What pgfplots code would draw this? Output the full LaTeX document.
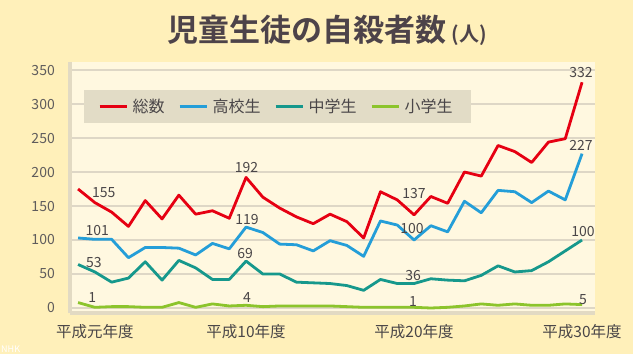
\documentclass[border=0pt]{standalone}
\usepackage{fontspec}
\setmainfont{Noto Sans CJK JP}[BoldFont={Noto Sans CJK JP Bold}]
\usepackage{pgfplots}
\usepackage{pgfplotstable}
\pgfplotsset{compat=1.18}
\usetikzlibrary{calc}
\pgfdeclarelayer{background}
\pgfsetlayers{background,main}
\definecolor{bgc}{RGB}{255,240,186}
\definecolor{plotbg}{RGB}{255,248,224}
\definecolor{gridc}{RGB}{222,215,198}
\definecolor{bordc}{RGB}{226,218,195}
\definecolor{legbg}{RGB}{226,220,198}
\definecolor{titlec}{RGB}{77,67,73}
\definecolor{txtc}{RGB}{74,70,72}
\definecolor{tickc}{RGB}{95,92,92}
\definecolor{cred}{RGB}{230,0,18}
\definecolor{cblue}{RGB}{36,158,216}
\definecolor{cteal}{RGB}{22,152,140}
\definecolor{cgreen}{RGB}{140,196,44}
\tikzset{lab/.style={font=\fontsize{14}{16}\selectfont, text=txtc, inner sep=0pt, anchor=center}}

\pgfplotstableread{
x tot high mid elem
0 175 103 64 8
1 155 101 53 1
2 141 101 38 2
3 120 74 44 2
4 158 89 68 1
5 131 89 41 1
6 166 88 70 8
7 138 78 59 1
8 143 95 42 6
9 132 87 42 3
10 192 119 69 4
11 163 111 50 2
12 147 94 50 3
13 134 93 38 3
14 124 84 37 3
15 138 99 36 3
16 127 92 33 2
17 103 76 26 1
18 171 128 42 1
19 159 122 36 1
20 137 100 36 1
21 164 121 43 0
22 154 112 41 1
23 200 157 40 3
24 194 140 48 6
25 239 173 62 4
26 230 171 53 6
27 214 155 55 4
28 244 172 68 4
29 249 159 84 6
30 332 227 100 5
}\data

\begin{document}
\begin{tikzpicture}
\begin{axis}[
  name=ax,
  scale only axis, width=525pt, height=251pt,
  xmin=-0.48, xmax=30.77, ymin=-7.35, ymax=361.8,
  axis background/.style={fill=plotbg},
  axis x line*=bottom, axis y line*=left,
  axis line style={draw=bordc, line width=4pt, -},
  ytick={0,50,...,350},
  ymajorgrids, grid style={draw=gridc, line width=1.8pt},
  xtick={1,10,20,30},
  xticklabels={平成元年度,平成10年度,平成20年度,平成30年度},
  major tick length=0pt, tick style={draw=none},
  /pgf/number format/assume math mode=true,
  yticklabel style={font=\fontsize{14}{16}\selectfont, text=tickc, inner sep=0pt, xshift=-15pt},
  xticklabel style={font=\fontsize{15.5}{17}\selectfont, text=txtc, inner sep=0pt, yshift=-11pt},
  legend columns=4,
  legend style={at={(0.0267,0.8884)}, anchor=north west, draw=none, fill=legbg,
    inner xsep=14pt, inner ysep=9pt, font=\fontsize{16}{18}\selectfont, text=txtc,
    nodes={inner xsep=4.5pt, inner ysep=0pt},
    /tikz/every even column/.append style={column sep=9pt}},
  legend image code/.code={\draw[#1, line width=3pt] (0pt,0pt) -- (27pt,0pt);},
  every axis plot/.append style={line width=2.8pt, line join=round, no markers},
  clip=false,
]
\addplot[cred] table[x=x, y=tot] {\data};
\addlegendentry{総数}
\addplot[cblue] table[x=x, y=high] {\data};
\addlegendentry{高校生}
\addplot[cteal] table[x=x, y=mid] {\data};
\addlegendentry{中学生}
\addplot[cgreen] table[x=x, y=elem] {\data};
\addlegendentry{小学生}

\node[lab, xshift=9pt, yshift=10.5pt] at (axis cs:1,155) {155};
\node[lab, xshift=2.5pt, yshift=9pt] at (axis cs:1,101) {101};
\node[lab, xshift=-1pt, yshift=9.5pt] at (axis cs:1,53) {53};
\node[lab, xshift=-2.5pt, yshift=10pt] at (axis cs:1,1) {1};
\node[lab, xshift=0.5pt, yshift=10pt] at (axis cs:10,192) {192};
\node[lab, xshift=1pt, yshift=8pt] at (axis cs:10,119) {119};
\node[lab, xshift=-1pt, yshift=7.5pt] at (axis cs:10,69) {69};
\node[lab, xshift=1pt, yshift=8pt] at (axis cs:10,4) {4};
\node[lab, xshift=0pt, yshift=21pt] at (axis cs:20,137) {137};
\node[lab, xshift=-2pt, yshift=11pt] at (axis cs:20,100) {100};
\node[lab, xshift=-1pt, yshift=8.5pt] at (axis cs:20,36) {36};
\node[lab, xshift=-1pt, yshift=6pt] at (axis cs:20,1) {1};
\node[lab, xshift=-1pt, yshift=10pt] at (axis cs:30,332) {332};
\node[lab, xshift=-1pt, yshift=8.6pt] at (axis cs:30,227) {227};
\node[lab, xshift=1pt, yshift=8pt] at (axis cs:30,100) {100};
\node[lab, xshift=1pt, yshift=5pt] at (axis cs:30,5) {5};
\coordinate (O) at (rel axis cs:0,0);
\end{axis}
\pgfresetboundingbox
\begin{pgfonlayer}{background}
\fill[bgc] ($(O)+(-70pt,-41pt)$) rectangle +(633pt,354pt);
\end{pgfonlayer}
\path[use as bounding box] ($(O)+(-70pt,-41pt)$) rectangle +(633pt,354pt);
\node[text=titlec, font=\bfseries\fontsize{31}{34}\selectfont, inner sep=0pt] at ($(O)+(257pt,283pt)$) {児童生徒の自殺者数\,{\fontsize{20}{22}\selectfont (人)}};
\node[text=white, font=\fontsize{9}{9}\selectfont, inner sep=0pt, anchor=south west] at ($(O)+(-69pt,-40pt)$) {NHK};
\end{tikzpicture}
\end{document}
